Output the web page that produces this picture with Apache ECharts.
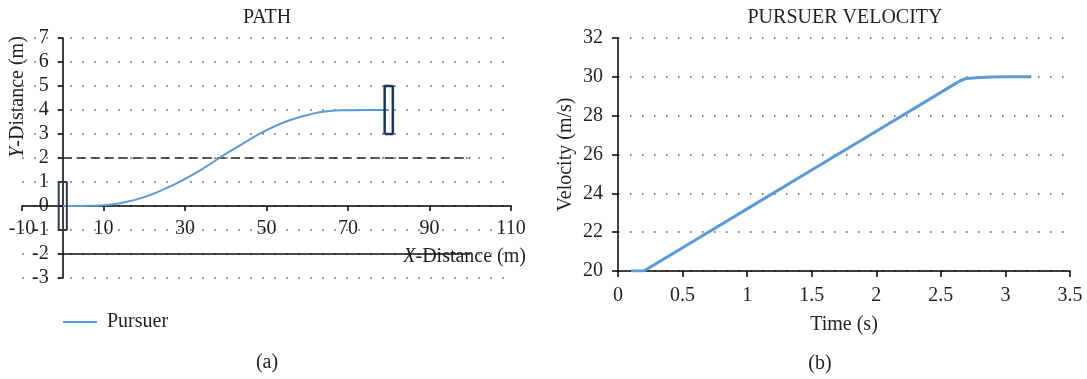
<!DOCTYPE html>
<html><head><meta charset="utf-8">
<script src="https://cdn.jsdelivr.net/npm/echarts@6/dist/echarts.min.js"></script>
<style>html,body{margin:0;padding:0;background:#fff}#c{width:1087px;height:379px}</style>
</head><body><div id="c"></div>
<script>
// ---- Data: (a) PATH ----
const pursuerPathX = [0, 5, 10, 15, 20, 25, 30, 35, 40, 45, 50, 55, 60, 65, 70, 75, 80];
const pursuerPathY = [0, 0.005, 0.03, 0.15, 0.37, 0.71, 1.13, 1.62, 2.17, 2.68, 3.16, 3.53, 3.79, 3.95, 3.99, 4.0, 4.0];
const upperLaneX = [0, 100];
const upperLaneY = [2, 2];
const lowerLaneX = [0, 100];
const lowerLaneY = [-2, -2];
const startBoxX = [-1, 1, 1, -1, -1];
const startBoxY = [-1, -1, 1, 1, -1];
const endBoxX = [79, 81, 81, 79, 79];
const endBoxY = [3, 3, 5, 5, 3];
const pathXTicks = { min: -10, max: 110, interval: 20 };
const pathYTicks = { min: -3, max: 7, interval: 1 };

// ---- Data: (b) PURSUER VELOCITY ----
const timeS = [0.1, 0.2, 0.5, 1.0, 1.5, 2.0, 2.5, 2.6, 2.65, 2.7, 2.8, 2.9, 3.0, 3.2];
const velocityMS = [20, 20, 21.2, 23.2, 25.2, 27.2, 29.2, 29.6, 29.8, 29.92, 29.97, 29.99, 30, 30];
const timeTicks = { min: 0, max: 3.5, interval: 0.5 };
const velTicks = { min: 20, max: 32, interval: 2 };

const zip = (xs, ys) => xs.map((x, i) => [x, ys[i]]);

const FONT = 'Liberation Serif';
const TXT = '#231f20';
const BLUE = '#5b9bd5';
const lbl = { fontFamily: FONT, fontSize: 20, color: TXT };

// left grid geometry (pixels) used to place the crossing axes at x=0 / y=0
const G0 = { left: 22, top: 38, width: 489, height: 240 };
const yAxisOffset0 = -G0.width * (0 - pathXTicks.min) / (pathXTicks.max - pathXTicks.min);
const xAxisOffset0 = -G0.height * (0 - pathYTicks.min) / (pathYTicks.max - pathYTicks.min);

const chart = echarts.init(document.getElementById('c'), null, { renderer: 'canvas' });
chart.setOption({
  animation: false,
  backgroundColor: '#fff',
  title: [
    { text: 'PATH', left: 262, top: 3, textAlign: 'center', textStyle: { fontFamily: FONT, fontSize: 20, fontWeight: 'normal', color: TXT } },
    { text: 'PURSUER VELOCITY', left: 840, top: 3, textAlign: 'center', textStyle: { fontFamily: FONT, fontSize: 20, fontWeight: 'normal', color: TXT } }
  ],
  legend: {
    data: [{ name: 'Pursuer', icon: 'rect' }],
    left: 58, top: 307,
    itemWidth: 34, itemHeight: 2,
    textStyle: { fontFamily: FONT, fontSize: 20, color: TXT, padding: [0, 0, 0, 5] }
  },
  grid: [
    { left: G0.left, top: G0.top, width: G0.width, height: G0.height, containLabel: false, outerBoundsMode: 'none' },
    { left: 618, top: 38, width: 452, height: 233, containLabel: false, outerBoundsMode: 'none' }
  ],
  xAxis: [
    {
      gridIndex: 0, type: 'value', min: pathXTicks.min, max: pathXTicks.max, interval: pathXTicks.interval,
      position: 'bottom', offset: xAxisOffset0,
      axisLine: { onZero: false, lineStyle: { color: '#000', width: 1.5 } },
      axisTick: { show: true, length: 5, lineStyle: { color: '#000', width: 1.5 } },
      axisLabel: Object.assign({ margin: 13 }, lbl),
      splitLine: { show: false }
    },
    {
      gridIndex: 1, type: 'value', min: timeTicks.min, max: timeTicks.max, interval: timeTicks.interval,
      name: 'Time (s)', nameLocation: 'middle', nameGap: 44,
      nameTextStyle: { fontFamily: FONT, fontSize: 20, color: TXT },
      axisLine: { onZero: false, lineStyle: { color: '#000', width: 1.5 } },
      axisTick: { show: true, length: 6, lineStyle: { color: '#000', width: 1.5 } },
      axisLabel: Object.assign({ margin: 15 }, lbl),
      splitLine: { show: false }
    }
  ],
  yAxis: [
    {
      gridIndex: 0, type: 'value', min: pathYTicks.min, max: pathYTicks.max, interval: pathYTicks.interval,
      position: 'left', offset: yAxisOffset0,
      axisLine: { onZero: false, lineStyle: { color: '#000', width: 1.5 } },
      axisTick: { show: true, length: 5, lineStyle: { color: '#000', width: 1.5 } },
      axisLabel: Object.assign({ margin: 14 }, lbl),
      splitLine: { show: true, lineStyle: { color: '#9a9a9a', width: 2, type: [2, 10] } }
    },
    {
      gridIndex: 1, type: 'value', min: velTicks.min, max: velTicks.max, interval: velTicks.interval,
      name: 'Velocity (m/s)', nameLocation: 'middle', nameGap: 42,
      nameTextStyle: { fontFamily: FONT, fontSize: 20, color: TXT },
      axisLine: { onZero: false, lineStyle: { color: '#000', width: 1.5 } },
      axisTick: { show: true, length: 6, lineStyle: { color: '#000', width: 1.5 } },
      axisLabel: Object.assign({ margin: 15 }, lbl),
      splitLine: { show: true, lineStyle: { color: '#555', width: 1.5, type: [1.5, 10.5] } }
    }
  ],
  graphic: [
    {
      type: 'text', x: 18, y: 97, rotation: Math.PI / 2,
      style: {
        text: '{i|Y}-Distance (m)', fontFamily: FONT, fontSize: 20, fill: TXT,
        align: 'center', verticalAlign: 'middle',
        rich: { i: { fontFamily: FONT, fontSize: 20, fontStyle: 'italic', fill: TXT } }
      }
    },
    {
      type: 'text', x: 526, y: 257,
      style: {
        text: '{i|X}-Distance (m)', fontFamily: FONT, fontSize: 20, fill: TXT,
        align: 'right', verticalAlign: 'middle',
        rich: { i: { fontFamily: FONT, fontSize: 20, fontStyle: 'italic', fill: TXT } }
      }
    },
    { type: 'text', x: 267, y: 363, style: { text: '(a)', fontFamily: FONT, fontSize: 20, fill: TXT, align: 'center', verticalAlign: 'middle' } },
    { type: 'text', x: 820, y: 364, style: { text: '(b)', fontFamily: FONT, fontSize: 20, fill: TXT, align: 'center', verticalAlign: 'middle' } }
  ],
  series: [
    {
      name: 'Upper lane', type: 'line', xAxisIndex: 0, yAxisIndex: 0, symbol: 'none',
      data: zip(upperLaneX, upperLaneY), lineStyle: { color: '#222', width: 1.5, type: [9, 5] }, z: 3
    },
    {
      name: 'Lower lane', type: 'line', xAxisIndex: 0, yAxisIndex: 0, symbol: 'none',
      data: zip(lowerLaneX, lowerLaneY), lineStyle: { color: '#111', width: 1.5 }, z: 3
    },
    {
      name: 'Pursuer', type: 'line', xAxisIndex: 0, yAxisIndex: 0, symbol: 'none', smooth: true,
      data: zip(pursuerPathX, pursuerPathY), lineStyle: { color: BLUE, width: 2 }, itemStyle: { color: BLUE }, z: 4
    },
    {
      name: 'Start box', type: 'line', xAxisIndex: 0, yAxisIndex: 0, symbol: 'none',
      data: zip(startBoxX, startBoxY), lineStyle: { color: '#2e3b52', width: 2 }, z: 5
    },
    {
      name: 'End box', type: 'line', xAxisIndex: 0, yAxisIndex: 0, symbol: 'none',
      data: zip(endBoxX, endBoxY), lineStyle: { color: '#17375e', width: 2.5 }, z: 5
    },
    {
      name: 'Velocity', type: 'line', xAxisIndex: 1, yAxisIndex: 1, symbol: 'none',
      data: zip(timeS, velocityMS), lineStyle: { color: BLUE, width: 3 }, z: 4
    }
  ]
});
</script>
</body></html>
